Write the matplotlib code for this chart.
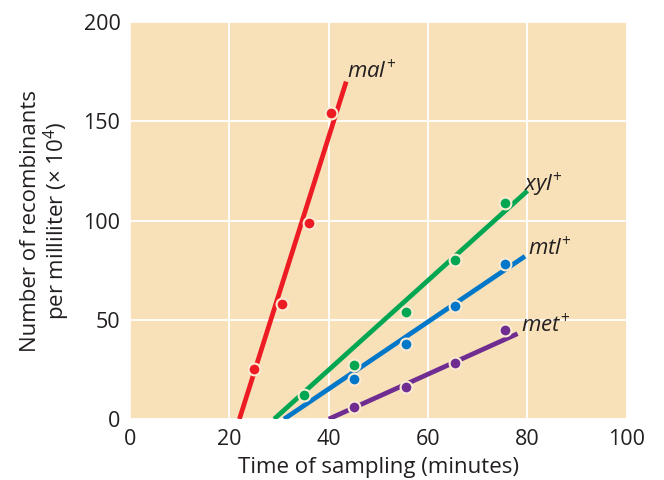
import numpy as np
import matplotlib.pyplot as plt

plt.rcParams['font.family'] = ['Open Sans', 'DejaVu Sans']
plt.rcParams['mathtext.fontset'] = 'custom'
plt.rcParams['mathtext.rm'] = 'Open Sans'
plt.rcParams['mathtext.it'] = 'Open Sans:italic'

# Recombinant counts vs. sampling time (interrupted mating)
mal_t = [25, 30.5, 36, 40.5]
mal_n = [25, 58, 99, 154]
xyl_t = [35, 45, 55.5, 65.5, 75.5]
xyl_n = [12, 27, 54, 80, 109]
mtl_t = [45, 55.5, 65.5, 75.5]
mtl_n = [20, 38, 57, 78]
met_t = [45, 55.5, 65.5, 75.5]
met_n = [6, 16, 28, 45]

# fitted lines: [start, end] in minutes and counts
mal_line_t = [22, 43.5]
mal_line_n = [0, 170]
xyl_line_t = [29, 80]
xyl_line_n = [0, 115]
mtl_line_t = [31, 79.5]
mtl_line_n = [0, 82]
met_line_t = [40, 78]
met_line_n = [0, 43]

labels = ['mal', 'xyl', 'mtl', 'met']
label_pos = [(43.6, 175), (79.2, 118), (80.1, 86), (78.6, 47)]
colors = ['#ED1C24', '#00A651', '#0077C8', '#6F2C91']
ink = '#231F20'

fig = plt.figure(figsize=(6.64, 4.8), dpi=100)
ax = fig.add_axes([0.196, 0.127, 0.748, 0.827])
ax.set_facecolor('#F8E0B8')

series = [(mal_t, mal_n, mal_line_t, mal_line_n),
          (xyl_t, xyl_n, xyl_line_t, xyl_line_n),
          (mtl_t, mtl_n, mtl_line_t, mtl_line_n),
          (met_t, met_n, met_line_t, met_line_n)]

for (t, n, lt, ln), c, lab, pos in zip(series, colors, labels, label_pos):
    ax.plot(lt, ln, color=c, lw=3.4, solid_capstyle='butt', zorder=3)
    ax.plot(t, n, 'o', color=c, ms=8.5, mec='#FBEBD2', mew=1.5, zorder=4)
    ax.text(pos[0], pos[1], r'$\mathit{%s}^{+}$' % lab,
            color=ink, fontsize=16, ha='left', va='center')

ax.set_xlim(0, 100)
ax.set_ylim(0, 200)
ax.set_xticks([0, 20, 40, 60, 80, 100])
ax.set_yticks([0, 50, 100, 150, 200])
ax.grid(True, color='white', lw=1.3)
ax.set_axisbelow(True)
for s in ax.spines.values():
    s.set_visible(False)
ax.tick_params(length=0, labelsize=15.5, colors=ink, pad=7)
ax.set_xlabel('Time of sampling (minutes)', fontsize=16, color=ink, labelpad=5)
ax.set_ylabel('Number of recombinants\nper milliliter ($\\times$ 10$^4$)', fontsize=16,
              color=ink, labelpad=8, linespacing=1.05)

fig.savefig('out.png', dpi=100)
